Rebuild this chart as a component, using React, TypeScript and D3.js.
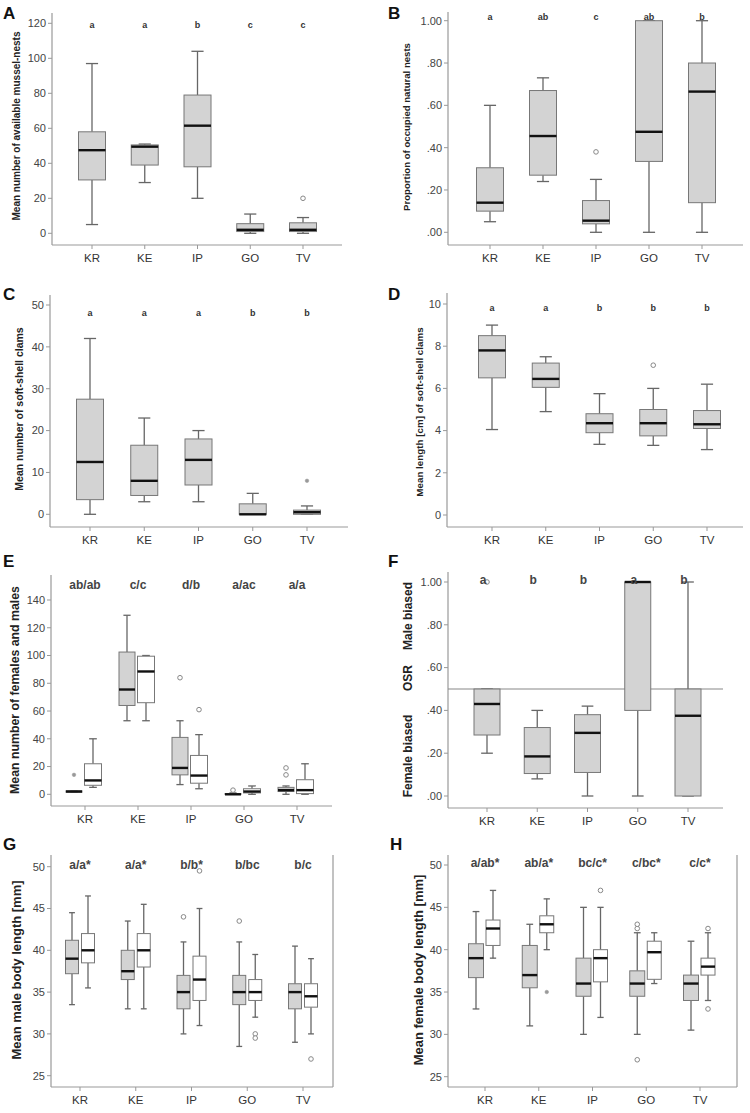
import React from 'react';
import * as d3 from 'd3';

const categories = ['KR', 'KE', 'IP', 'GO', 'TV'];

// each box: [lower whisker, Q1, median, Q3, upper whisker]
const nestsBoxes = [[5, 30.5, 47.5, 58, 97], [29, 39, 49.5, 50.5, 51], [20, 38, 61.5, 79, 104], [0, 1, 2, 5.5, 11], [0, 1, 2, 6, 9]];
const nestsOutliers = [[], [], [], [], [20]];
const nestsLetters = ['a', 'a', 'b', 'c', 'c'];

const occupiedBoxes = [[0.05, 0.1, 0.14, 0.305, 0.6], [0.24, 0.27, 0.455, 0.67, 0.73], [0, 0.04, 0.055, 0.15, 0.25], [0, 0.335, 0.475, 1, 1], [0, 0.14, 0.665, 0.8, 1]];
const occupiedOutliers = [[], [], [0.38], [], []];
const occupiedLetters = ['a', 'ab', 'c', 'ab', 'b'];

const clamCountBoxes = [[0, 3.5, 12.5, 27.5, 42], [3, 4.5, 8, 16.5, 23], [3, 7, 13, 18, 20], [0, 0, 0, 2.5, 5], [0, 0, 0.5, 1, 2]];
const clamCountExtremes = [[], [], [], [], [8]];
const clamCountLetters = ['a', 'a', 'a', 'b', 'b'];

const clamLengthBoxes = [[4.05, 6.5, 7.8, 8.5, 9], [4.9, 6.05, 6.45, 7.2, 7.5], [3.35, 3.9, 4.35, 4.8, 5.75], [3.3, 3.75, 4.35, 5, 6], [3.1, 4.1, 4.3, 4.95, 6.2]];
const clamLengthOutliers = [[], [], [], [7.1], []];
const clamLengthLetters = ['a', 'a', 'b', 'b', 'b'];

const femaleCountBoxes = [[1.5, 1.5, 2, 2.5, 2.5], [53, 64, 75.5, 102.5, 129], [7, 14, 19, 41, 53], [0, 0, 0, 0.5, 1], [0, 2, 3, 5, 6]];
const femaleCountOutliers = [[], [], [84], [3], [14, 19]];
const femaleCountExtremes = [[14], [], [], [], []];
const maleCountBoxes = [[5, 6.5, 10, 22, 40], [53, 66, 88.5, 99.5, 100], [4, 8, 13.5, 28, 43], [0, 1, 2, 4, 6], [0, 0.5, 3, 10.5, 22]];
const maleCountOutliers = [[], [], [61], [], []];
const countLetters = ['ab/ab', 'c/c', 'd/b', 'a/ac', 'a/a'];

const osrBoxes = [[0.2, 0.285, 0.43, 0.5, 0.5], [0.08, 0.105, 0.185, 0.32, 0.4], [0, 0.11, 0.295, 0.38, 0.42], [0, 0.4, 1, 1, 1], [0, 0, 0.375, 0.5, 1]];
const osrOutliers = [[1], [], [], [], []];
const osrLetters = ['a', 'b', 'b', 'a', 'b'];

const maleLengthGray = [[33.5, 37.2, 39, 41.2, 44.5], [33, 36.5, 37.5, 40, 43.5], [30, 33, 35, 37, 41], [28.5, 33.5, 35, 37, 41], [29, 33, 35, 36, 40.5]];
const maleLengthGrayOutliers = [[], [], [44], [43.5], []];
const maleLengthWhite = [[35.5, 38.5, 40, 42, 46.5], [33, 38, 40, 42, 45.5], [31, 34, 36.5, 39.3, 45], [32, 34, 35, 36.5, 39.5], [30, 33.2, 34.5, 36, 39]];
const maleLengthWhiteOutliers = [[], [], [49.5], [30, 29.5], [27]];
const maleLengthLetters = ['a/a*', 'a/a*', 'b/b*', 'b/bc', 'b/c'];

const femaleLengthGray = [[33, 36.7, 39, 40.7, 44.5], [31, 35.5, 37, 40.5, 43], [30, 34.5, 36, 39, 45], [30, 34.5, 36, 37.5, 42], [30.5, 34, 36, 37, 41]];
const femaleLengthGrayOutliers = [[], [], [], [42.5, 43, 27], []];
const femaleLengthWhite = [[39, 40.5, 42.5, 43.5, 47], [40, 42, 43, 44, 46], [32, 36.2, 39, 40, 45], [36, 36.5, 39.7, 41, 42], [34, 37, 38, 39, 42]];
const femaleLengthWhiteOutliers = [[], [], [47], [], [42.5, 33]];
const femaleLengthWhiteExtremes = [[], [35], [], [], []];
const femaleLengthLetters = ['a/ab*', 'ab/a*', 'bc/c*', 'c/bc*', 'c/c*'];

const GRAY = '#d3d3d3';
const AXIS = '#999';
const FONT = '"Liberation Sans", Arial, sans-serif';

const fmtProp = (d) => d3.format('.2f')(d).replace(/^0\./, '.');

function Panel({ p }) {
  const y = d3.scaleLinear().domain(p.yDomain).range(p.yRange);
  const x = d3.scalePoint().domain(categories).range(p.xRange);
  const ticks = d3.range(p.yDomain[0], p.yDomain[1] + p.step / 2, p.step);
  const fmt = p.fmt || ((d) => String(d));
  return (
    <g fontFamily={FONT}>
      <text x={p.tag[0]} y={p.tag[1]} fontSize={17} fontWeight="bold" fill="#111">{p.name}</text>
      <line x1={p.ax} x2={p.ax} y1={p.top} y2={p.bottom} stroke={AXIS} strokeWidth={1.2} />
      <line x1={p.ax} x2={p.right} y1={p.bottom} y2={p.bottom} stroke={AXIS} strokeWidth={1.2} />
      {p.frame && <line x1={p.right} x2={p.right} y1={p.top} y2={p.bottom} stroke={AXIS} strokeWidth={1.2} />}
      {ticks.map((t) => (
        <g key={t}>
          <line x1={p.ax - 4} x2={p.ax} y1={y(t)} y2={y(t)} stroke={AXIS} strokeWidth={1} />
          <text x={p.ax - 6} y={y(t)} dy="0.35em" textAnchor="end" fontSize={11} fill="#444">{fmt(t)}</text>
        </g>
      ))}
      {categories.map((c) => (
        <g key={c}>
          <line x1={x(c)} x2={x(c)} y1={p.bottom} y2={p.bottom + 4} stroke={AXIS} strokeWidth={1} />
          <text x={x(c)} y={p.bottom + 17} textAnchor="middle" fontSize={11.5} fill="#333">{c}</text>
        </g>
      ))}
      {p.refLine != null && (
        <line x1={p.ax} x2={p.right} y1={y(p.refLine)} y2={y(p.refLine)} stroke="#888" strokeWidth={1.2} />
      )}
      {p.series.map((s, si) =>
        s.boxes.map((b, i) => {
          const cx = x(categories[i]) + s.offset;
          const w = s.width;
          const cap = w * 0.45;
          const [lo, q1, med, q3, hi] = b;
          return (
            <g key={si + '-' + i}>
              <line x1={cx} x2={cx} y1={y(lo)} y2={y(q1)} stroke="#666" strokeWidth={1.3} />
              <line x1={cx} x2={cx} y1={y(q3)} y2={y(hi)} stroke="#666" strokeWidth={1.3} />
              <line x1={cx - cap / 2} x2={cx + cap / 2} y1={y(lo)} y2={y(lo)} stroke="#666" strokeWidth={1.3} />
              <line x1={cx - cap / 2} x2={cx + cap / 2} y1={y(hi)} y2={y(hi)} stroke="#666" strokeWidth={1.3} />
              <rect x={cx - w / 2} y={y(q3)} width={w} height={Math.max(0.5, y(q1) - y(q3))} fill={s.fill} stroke="#777" strokeWidth={1} />
              <line x1={cx - w / 2} x2={cx + w / 2} y1={y(med)} y2={y(med)} stroke="#111" strokeWidth={2.4} />
              {(s.outliers[i] || []).map((o, k) => (
                <circle key={'o' + k} cx={cx} cy={y(o)} r={2.3} fill="#fff" stroke="#888" strokeWidth={1} />
              ))}
              {((s.extremes && s.extremes[i]) || []).map((o, k) => (
                <circle key={'e' + k} cx={cx} cy={y(o)} r={1.8} fill="#999" stroke="#999" strokeWidth={0.5} />
              ))}
            </g>
          );
        })
      )}
      {p.letters.map((l, i) => (
        <text key={i} x={x(categories[i]) + (p.letterShift || 0)} y={p.letterY} textAnchor="middle"
          fontSize={p.letterSize} fontWeight="bold" fill={p.letterColor || '#333'}>{l}</text>
      ))}
      {p.yLabels.map((yl, i) => (
        <text key={i} transform={`translate(${p.labelX},${yl.cy}) rotate(-90)`} textAnchor="middle"
          dy="0.35em" fontSize={p.labelSize} fontWeight="bold" fill="#222">{yl.text}</text>
      ))}
    </g>
  );
}

const panels = [
  {
    name: 'A', tag: [3, 19], ax: 52, top: 13, bottom: 245, right: 342,
    yDomain: [0, 120], yRange: [233.3, 23.3], step: 20, xRange: [92, 303],
    series: [{ boxes: nestsBoxes, outliers: nestsOutliers, fill: GRAY, offset: 0, width: 27 }],
    letters: nestsLetters, letterY: 28, letterSize: 9,
    yLabels: [{ text: 'Mean number of available mussel-nests', cy: 126 }], labelX: 16, labelSize: 10,
  },
  {
    name: 'B', tag: [388, 19], ax: 448, top: 12, bottom: 245, right: 743,
    yDomain: [0, 1], yRange: [232.3, 20.7], step: 0.2, xRange: [490, 702], fmt: fmtProp,
    series: [{ boxes: occupiedBoxes, outliers: occupiedOutliers, fill: GRAY, offset: 0, width: 27 }],
    letters: occupiedLetters, letterY: 20, letterSize: 9,
    yLabels: [{ text: 'Proportion of occupied natural nests', cy: 127 }], labelX: 407, labelSize: 9.6,
  },
  {
    name: 'C', tag: [3, 300], ax: 50, top: 295, bottom: 527, right: 348,
    yDomain: [0, 50], yRange: [514.3, 305], step: 10, xRange: [90, 307],
    series: [{ boxes: clamCountBoxes, outliers: [[], [], [], [], []], extremes: clamCountExtremes, fill: GRAY, offset: 0, width: 27 }],
    letters: clamCountLetters, letterY: 316, letterSize: 9,
    yLabels: [{ text: 'Mean number of soft-shell clams', cy: 409 }], labelX: 19, labelSize: 10.5,
  },
  {
    name: 'D', tag: [388, 300], ax: 447, top: 293, bottom: 527, right: 743,
    yDomain: [0, 10], yRange: [515, 304], step: 2, xRange: [492, 707],
    series: [{ boxes: clamLengthBoxes, outliers: clamLengthOutliers, fill: GRAY, offset: 0, width: 27 }],
    letters: clamLengthLetters, letterY: 311, letterSize: 9,
    yLabels: [{ text: 'Mean length [cm] of soft-shell clams', cy: 412 }], labelX: 420, labelSize: 9.8,
  },
  {
    name: 'E', tag: [3, 567], ax: 51, top: 575, bottom: 806, right: 332,
    yDomain: [0, 140], yRange: [794.3, 600], step: 20, xRange: [85, 297],
    series: [
      { boxes: femaleCountBoxes, outliers: femaleCountOutliers, extremes: femaleCountExtremes, fill: GRAY, offset: -11, width: 16 },
      { boxes: maleCountBoxes, outliers: maleCountOutliers, fill: '#fff', offset: 8, width: 17 },
    ],
    letters: countLetters, letterY: 589, letterSize: 12, letterColor: '#444',
    yLabels: [{ text: 'Mean number of females and males', cy: 690 }], labelX: 15, labelSize: 12.3,
  },
  {
    name: 'F', tag: [388, 567], ax: 448, top: 572, bottom: 808, right: 723,
    yDomain: [0, 1], yRange: [796, 582], step: 0.2, xRange: [487, 688], fmt: fmtProp, refLine: 0.5,
    series: [{ boxes: osrBoxes, outliers: osrOutliers, fill: GRAY, offset: 0, width: 26 }],
    letters: osrLetters, letterY: 584, letterSize: 12, letterColor: '#444', letterShift: -4,
    yLabels: [
      { text: 'Male biased', cy: 616 },
      { text: 'OSR', cy: 678 },
      { text: 'Female biased', cy: 756 },
    ], labelX: 408, labelSize: 12,
  },
  {
    name: 'G', tag: [3, 850], ax: 51, top: 855, bottom: 1087, right: 333, frame: true,
    yDomain: [25, 50], yRange: [1075.7, 866.7], step: 5, xRange: [80, 303],
    series: [
      { boxes: maleLengthGray, outliers: maleLengthGrayOutliers, fill: GRAY, offset: -8, width: 13 },
      { boxes: maleLengthWhite, outliers: maleLengthWhiteOutliers, fill: '#fff', offset: 8, width: 13 },
    ],
    letters: maleLengthLetters, letterY: 869, letterSize: 12, letterColor: '#444',
    yLabels: [{ text: 'Mean male body length [mm]', cy: 970 }], labelX: 16, labelSize: 13,
  },
  {
    name: 'H', tag: [390, 850], ax: 448, top: 855, bottom: 1087, right: 737, frame: true,
    yDomain: [25, 50], yRange: [1076.7, 865], step: 5, xRange: [485, 700],
    series: [
      { boxes: femaleLengthGray, outliers: femaleLengthGrayOutliers, fill: GRAY, offset: -9, width: 15 },
      { boxes: femaleLengthWhite, outliers: femaleLengthWhiteOutliers, extremes: femaleLengthWhiteExtremes, fill: '#fff', offset: 8, width: 14 },
    ],
    letters: femaleLengthLetters, letterY: 867, letterSize: 12, letterColor: '#444',
    yLabels: [{ text: 'Mean female body length [mm]', cy: 970 }], labelX: 418, labelSize: 13,
  },
];

export default function App() {
  return (
    <svg width={750} height={1113} style={{ position: 'absolute', left: 0, top: 0, background: '#fff' }}>
      <rect width={750} height={1113} fill="#fff" />
      {panels.map((p) => <Panel key={p.name} p={p} />)}
    </svg>
  );
}
